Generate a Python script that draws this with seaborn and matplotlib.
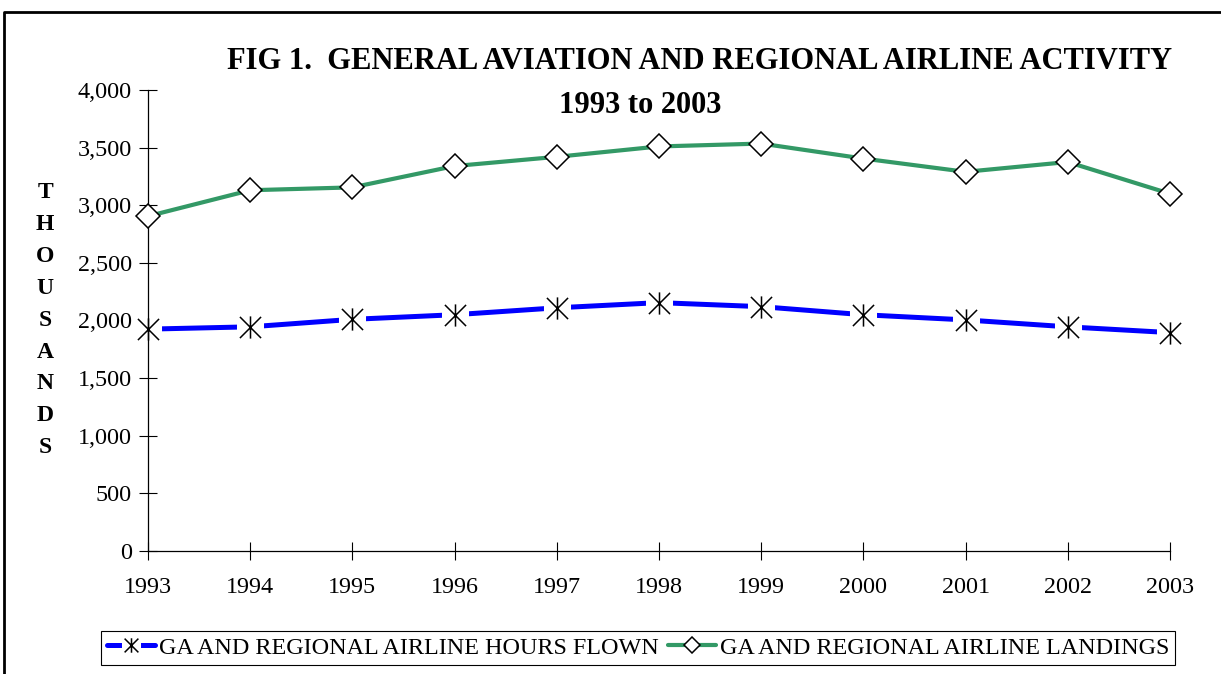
"""Recreate FIG 1: general aviation and regional airline activity, 1993 to 2003."""

import matplotlib

matplotlib.use("Agg")

import matplotlib.pyplot as plt
import pandas as pd
import seaborn as sns
from matplotlib.legend_handler import HandlerTuple
from matplotlib.lines import Line2D
from matplotlib.path import Path
from matplotlib.ticker import FuncFormatter, MultipleLocator

YEARS = [1993, 1994, 1995, 1996, 1997, 1998, 1999, 2000, 2001, 2002, 2003]
HOURS_FLOWN = [1925, 1945, 2010, 2050, 2110, 2155, 2120, 2050, 2005, 1945, 1895]
LANDINGS = [2905, 3130, 3155, 3340, 3420, 3510, 3535, 3405, 3290, 3375, 3100]

HOURS_LABEL = "GA AND REGIONAL AIRLINE HOURS FLOWN"
LANDINGS_LABEL = "GA AND REGIONAL AIRLINE LANDINGS"
TITLE_LINE_1 = "FIG 1.  GENERAL AVIATION AND REGIONAL AIRLINE ACTIVITY"
TITLE_LINE_2 = "1993 to 2003"
Y_LABEL = "THOUSANDS"

BLUE = "#0000FF"
GREEN = "#339966"
SERIF = ["Liberation Serif", "DejaVu Serif"]

# Excel style star: an X with a vertical bar through it
STAR = Path(
    [(-1, -1), (1, 1), (-1, 1), (1, -1), (0, -1.05), (0, 1.05)],
    [Path.MOVETO, Path.LINETO, Path.MOVETO, Path.LINETO, Path.MOVETO, Path.LINETO],
)


def main() -> None:
    sns.set_theme(style="white")
    plt.rcParams["font.family"] = SERIF
    plt.rcParams["text.color"] = "black"
    plt.rcParams["axes.labelcolor"] = "black"

    df = pd.DataFrame({"Year": YEARS, "Hours": HOURS_FLOWN, "Landings": LANDINGS})

    fig = plt.figure(figsize=(12.21, 6.74), dpi=100)
    ax = fig.add_axes([0.1212, 0.1825, 0.8370, 0.6840])

    # blue line with white blocks behind the stars, so the line stops short of them
    sns.lineplot(
        data=df, x="Year", y="Hours", ax=ax, color=BLUE, linewidth=3.6,
        marker="s", markersize=19, markerfacecolor="white", markeredgecolor="white",
        clip_on=False, zorder=2,
    )
    sns.lineplot(
        data=df, x="Year", y="Hours", ax=ax, linestyle="none",
        marker=STAR, markersize=16, markerfacecolor="none", markeredgecolor="black",
        markeredgewidth=1.1, clip_on=False, zorder=4,
    )
    sns.lineplot(
        data=df, x="Year", y="Landings", ax=ax, color=GREEN, linewidth=3.0,
        marker="D", markersize=12, markerfacecolor="white", markeredgecolor="black",
        markeredgewidth=1.1, clip_on=False, zorder=4,
    )

    ax.set_xlim(YEARS[0], YEARS[-1])
    ax.set_ylim(0, 4000)
    ax.set_xticks(YEARS)
    ax.set_xticklabels([str(y) for y in YEARS])
    ax.yaxis.set_major_locator(MultipleLocator(500))
    ax.yaxis.set_major_formatter(FuncFormatter(lambda v, _: f"{int(v):,}"))
    ax.set_xlabel("")
    ax.set_ylabel("")

    for side in ("top", "right"):
        ax.spines[side].set_visible(False)
    for side in ("left", "bottom"):
        ax.spines[side].set_color("black")
        ax.spines[side].set_linewidth(0.9)

    ax.tick_params(axis="both", which="major", bottom=True, left=True,
                   direction="inout", length=13, width=0.8, color="black",
                   labelsize=17.4, labelcolor="black")
    ax.tick_params(axis="x", pad=12)
    ax.tick_params(axis="y", pad=5)
    for label in ax.get_xticklabels() + ax.get_yticklabels():
        label.set_family(SERIF)

    fig.text(0.573, 0.909, TITLE_LINE_1, ha="center", va="center", color="black",
             fontsize=22, fontweight="bold", family=SERIF)
    fig.text(0.524, 0.843, TITLE_LINE_2, ha="center", va="center", color="black",
             fontsize=22, fontweight="bold", family=SERIF)
    fig.text(0.037, 0.525, "\n".join(Y_LABEL), ha="center", va="center", color="black",
             fontsize=17, fontweight="bold", family=SERIF, linespacing=1.68)

    lines = ax.get_lines()
    legend = fig.legend(
        [(lines[0], lines[1]), lines[2]],
        [HOURS_LABEL, LANDINGS_LABEL],
        handler_map={tuple: HandlerTuple(ndivide=1, pad=0)},
        loc="center", bbox_to_anchor=(0.5225, 0.0386), ncol=2,
        frameon=True, fancybox=False, framealpha=1,
        edgecolor="black", handlelength=2.0, handletextpad=0.15,
        columnspacing=0.4, borderpad=0.25, markerscale=0.65,
        prop={"family": SERIF, "size": 17.4},
    )
    legend.get_frame().set_linewidth(0.8)
    for text in legend.get_texts():
        text.set_color("black")

    # outer frame, open at the right and bottom like the source page
    fig.add_artist(Line2D([0.0033, 0.0033, 1.0], [0.0, 0.982, 0.982],
                          transform=fig.transFigure, color="black", linewidth=2.0))

    fig.savefig("out.png", dpi=100)
    plt.close(fig)


if __name__ == "__main__":
    main()
